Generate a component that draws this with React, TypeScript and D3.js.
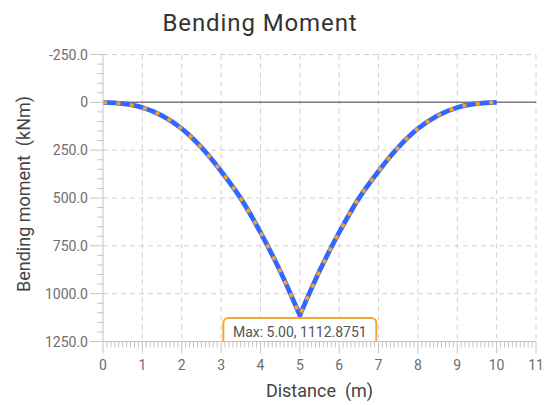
import React from "react";
import * as d3 from "d3";

const xs = [0, 0.5, 1, 1.5, 2, 2.5, 3, 3.5, 4, 4.5, 5, 5.5, 6, 6.5, 7, 7.5, 8, 8.5, 9, 9.5, 10];
const moments = [0, 7, 27, 70, 138, 236, 360, 502, 680, 882, 1112.8751, 882, 680, 502, 360, 236, 138, 70, 27, 7, 0];
const xTicks = [0, 1, 2, 3, 4, 5, 6, 7, 8, 9, 10, 11];
const yTicks = [-250, 0, 250, 500, 750, 1000, 1250];
const yTickLabels = ["-250.0", "0", "250.0", "500.0", "750.0", "1000.0", "1250.0"];
const maxLabel = "Max: 5.00, 1112.8751";
const title = "Bending Moment";
const xTitle = "Distance  (m)";
const yTitle = "Bending moment  (kNm)";

export default function App() {
  const W = 548, H = 405;
  const x = d3.scaleLinear().domain([0, 11]).range([103, 536]);
  const y = d3.scaleLinear().domain([-250, 1250]).range([54.5, 341.5]);
  const font = "Roboto, 'Noto Sans', sans-serif";
  const pts = xs.map((v, i) => [v, moments[i]] as [number, number]);
  const peak = moments.indexOf(d3.max(moments) as number);
  const left = pts.slice(0, peak + 1);
  const right = pts.slice(peak);
  const line = d3.line<[number, number]>().x(d => x(d[0])).y(d => y(d[1])).curve(d3.curveMonotoneX);
  const d = (line(left) || "") + (line(right) || "").replace(/^M[^CL]*/, "");
  const x0 = x(0), x1 = x(11), y0 = y(-250), y1 = y(1250);
  const xMinor = d3.range(0, 110 + 1).map(i => i / 10).filter(v => Math.abs(v - Math.round(v)) > 1e-6);
  const yMinor = d3.range(-250, 1251, 50).filter(v => v % 250 !== 0);
  const peakX = x(xs[peak]);
  const boxW = 153;
  return (
    <svg width={W} height={H} style={{ position: "absolute", left: 0, top: 0, background: "#fff" }}>
      <defs>
        <clipPath id="plot">
          <rect x={x0} y={y0} width={x1 - x0} height={y1 - y0} />
        </clipPath>
      </defs>
      <text x={260} y={31} textAnchor="middle" fontFamily={font} fontSize={24} letterSpacing={0.9} fill="#333">{title}</text>
      {xTicks.slice(1).map(t => (
        <line key={"gx" + t} x1={x(t)} x2={x(t)} y1={y0} y2={y1} stroke="#d0d0d0" strokeDasharray="5,4" />
      ))}
      {yTicks.filter(t => t !== 0 && t !== 1250).map(t => (
        <line key={"gy" + t} x1={x0} x2={x1} y1={y(t)} y2={y(t)} stroke="#d0d0d0" strokeDasharray="5,4" />
      ))}
      <line x1={x0} x2={x1} y1={y(0)} y2={y(0)} stroke="#7a7a7a" strokeWidth={1.5} />
      <g clipPath="url(#plot)">
        <path d={d} fill="none" stroke="#3366ff" strokeWidth={4.8} strokeLinejoin="miter" />
        <path d={d} fill="none" stroke="#f5a327" strokeWidth={3.6} strokeDasharray="4,9.5" />
        <rect x={peakX - boxW / 2} y={318} width={boxW} height={34} rx={5} fill="#fff" stroke="#f7a531" strokeWidth={2} />
        <text x={peakX} y={336.5} textAnchor="middle" fontFamily={font} fontSize={14} fill="#555">{maxLabel}</text>
      </g>
      <line x1={x0} x2={x0} y1={y0} y2={y1} stroke="#c4c4c4" />
      <line x1={x0} x2={x1} y1={y1} y2={y1} stroke="#c4c4c4" />
      {yTicks.map((t, i) => (
        <g key={"yt" + t}>
          <line x1={x0 - 13} x2={x0} y1={y(t)} y2={y(t)} stroke="#c4c4c4" />
          <text x={x0 - 15} y={y(t) + 5} textAnchor="end" fontFamily={font} fontSize={14} fill="#6e6e6e">{yTickLabels[i]}</text>
        </g>
      ))}
      {yMinor.map(t => (
        <line key={"ym" + t} x1={x0 - 6} x2={x0} y1={y(t)} y2={y(t)} stroke="#c4c4c4" />
      ))}
      {xTicks.map(t => (
        <g key={"xt" + t}>
          <line x1={x(t)} x2={x(t)} y1={y1} y2={y1 + 12} stroke="#c4c4c4" />
          <text x={x(t)} y={370} textAnchor="middle" fontFamily={font} fontSize={14} fill="#6e6e6e">{t}</text>
        </g>
      ))}
      {xMinor.map(t => (
        <line key={"xm" + t} x1={x(t)} x2={x(t)} y1={y1} y2={y1 + 6} stroke="#c4c4c4" />
      ))}
      <text x={(x0 + x1) / 2} y={397} textAnchor="middle" fontFamily={font} fontSize={18} fill="#444" style={{ whiteSpace: "pre" }}>{xTitle}</text>
      <text transform={`translate(30, ${(y0 + y1) / 2 - 4}) rotate(-90)`} textAnchor="middle" fontFamily={font} fontSize={18} fill="#444" style={{ whiteSpace: "pre" }}>{yTitle}</text>
    </svg>
  );
}
